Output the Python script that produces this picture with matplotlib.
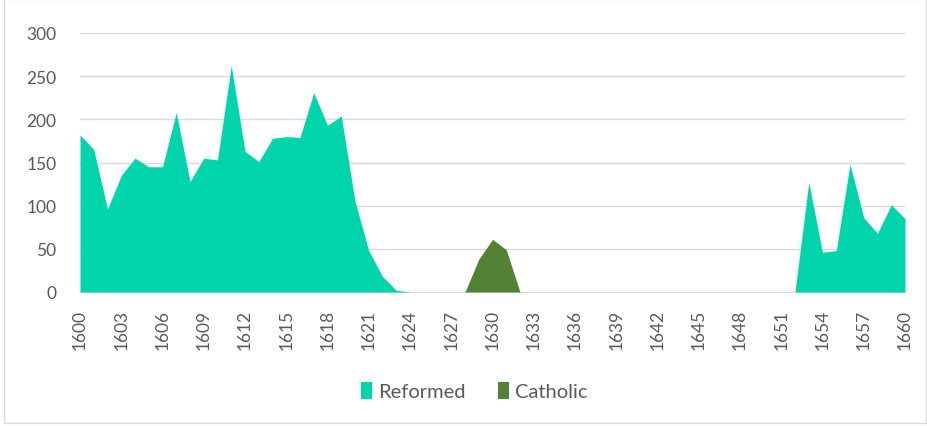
import numpy as np
import matplotlib.pyplot as plt
from matplotlib.patches import Rectangle

plt.rcParams['font.family'] = ['Lato', 'DejaVu Sans']

years = list(range(1600, 1661))

# Reformed values per year (1600..1660)
reformed = [182, 165, 96, 135, 155, 145, 145, 208, 128, 155,
            153, 262, 163, 151, 178, 180, 179, 231, 193, 204,
            105, 48, 18, 2, 0, 0, 0, 0, 0, 0,
            0, 0, 0, 0, 0, 0, 0, 0, 0, 0,
            0, 0, 0, 0, 0, 0, 0, 0, 0, 0,
            0, 0, 0, 127, 46, 48, 148, 86, 68, 101,
            85]

# Catholic values, only a few years are non-zero
catholic_years = [1628, 1629, 1630, 1631, 1632]
catholic_vals = [0, 38, 61, 49, 0]

reformed_color = '#00D4AA'
catholic_color = '#548235'
text_color = '#595959'

fig = plt.figure(figsize=(9.27, 4.27), dpi=100)
ax = fig.add_axes([80 / 927, 1 - 293 / 427, 825 / 927, 259 / 427])

ax.fill_between(years, 0, reformed, color=reformed_color, linewidth=0, label='Reformed', zorder=2)
ax.fill_between(catholic_years, 0, catholic_vals, color=catholic_color, linewidth=0, label='Catholic', zorder=3)

ax.set_xlim(1600, 1660)
ax.set_ylim(0, 300)
ax.set_xticks(range(1600, 1661, 3))
ax.set_yticks(range(0, 301, 50))
ax.tick_params(axis='x', labelrotation=90, length=0, pad=12, labelsize=12.5, colors=text_color)
ax.tick_params(axis='y', length=0, pad=17, labelsize=12.5, colors=text_color)

ax.grid(axis='y', color='#D9D9D9', linewidth=1, zorder=0)
ax.set_axisbelow(True)
for s in ['top', 'right', 'left']:
    ax.spines[s].set_visible(False)
ax.spines['bottom'].set_color('#D9D9D9')
ax.spines['bottom'].set_zorder(1)

leg = fig.legend(loc='center', bbox_to_anchor=(0.512, 1 - 392 / 427), ncol=2, frameon=False,
                 fontsize=14.5, handlelength=0.55, handleheight=0.9, handletextpad=0.3,
                 columnspacing=1.6)
for t in leg.get_texts():
    t.set_color(text_color)

# light border around the chart area
fig.patches.append(Rectangle((0.004, 0.006), 0.995, 0.993, transform=fig.transFigure,
                             fill=False, edgecolor='#D9D9D9', linewidth=1))

fig.savefig('out.png', dpi=100)
